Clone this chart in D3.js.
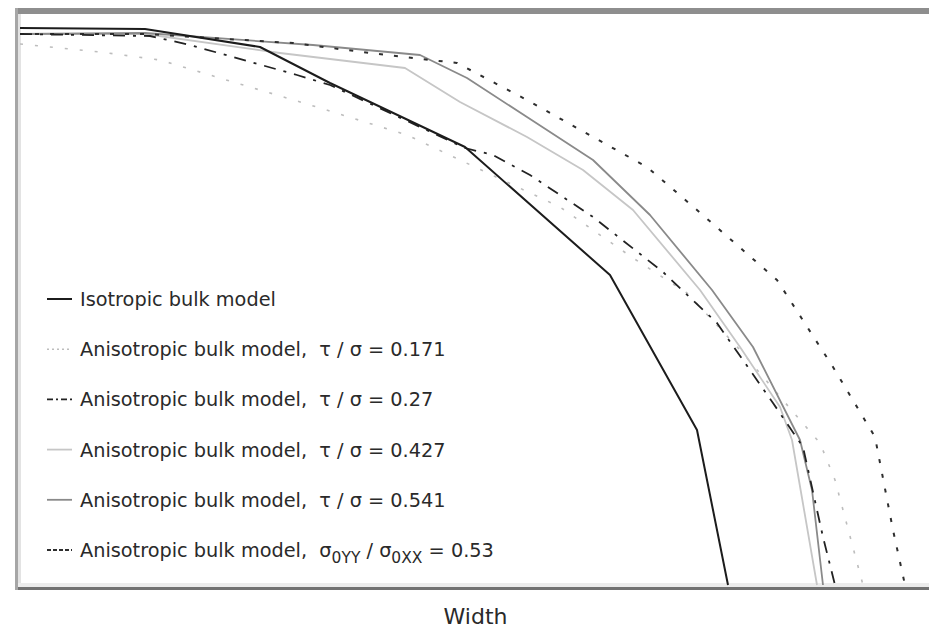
<!DOCTYPE html>
<html>
<head>
<meta charset="utf-8">
<script src="https://cdn.jsdelivr.net/npm/d3@7"></script>
<style>
  html, body { margin: 0; padding: 0; background: #fff; }
  svg { display: block; }
  text { font-family: "DejaVu Sans", Verdana, sans-serif; fill: #2a2a2a; }
</style>
</head>
<body>
<svg id="chart" width="929" height="628"></svg>
<script>
// ---- data (width vs. height, arbitrary units) ----
const seriesNames = [
  "Isotropic bulk model",
  "Anisotropic bulk model,  τ / σ = 0.171",
  "Anisotropic bulk model,  τ / σ = 0.27",
  "Anisotropic bulk model,  τ / σ = 0.427",
  "Anisotropic bulk model,  τ / σ = 0.541",
  "Anisotropic bulk model,  σ0YY / σ0XX = 0.53"
];
const isoX  = [0, 125, 240, 310, 445, 590, 677, 708];
const isoY  = [557, 556, 538, 502, 438, 310, 155, 0];
const a171X = [0, 80, 140, 213, 287, 387, 440, 540, 613, 667, 720, 780, 800, 815, 843];
const a171Y = [541, 533, 525, 503, 481, 450, 425, 378, 327, 292, 235, 165, 142, 105, 0];
const a027X = [0, 130, 170, 213, 277, 310, 445, 473, 510, 573, 643, 697, 753, 783, 803, 815];
const a027Y = [551, 549, 540, 528, 510, 500, 437, 430, 410, 368, 313, 262, 182, 138, 48, 0];
const a427X = [0, 125, 260, 385, 440, 507, 563, 613, 680, 720, 760, 772, 797];
const a427Y = [551, 551, 532, 517, 483, 448, 415, 375, 295, 238, 178, 145, 0];
const a541X = [0, 125, 293, 400, 447, 507, 573, 630, 692, 733, 780, 792, 803];
const a541Y = [551, 552, 540, 530, 507, 468, 425, 370, 295, 238, 145, 95, 0];
const a053X = [0, 125, 273, 350, 437, 507, 573, 627, 677, 757, 813, 855, 873, 885];
const a053Y = [551, 551, 542, 532, 522, 485, 448, 418, 375, 305, 218, 148, 55, 0];
const xLabel = "Width";

// ---- styles ----
const styles = [
  {stroke: "#1c1c1c", width: 2.0, dash: null,          legDash: null},
  {stroke: "#bdbdbd", width: 1.6, dash: "3,12",        legDash: "2,3"},
  {stroke: "#222222", width: 1.8, dash: "12,8,3,8",    legDash: "6,3,2,3"},
  {stroke: "#c6c6c6", width: 1.8, dash: null,          legDash: null},
  {stroke: "#8a8a8a", width: 1.8, dash: null,          legDash: null},
  {stroke: "#2e2e2e", width: 2.0, dash: "4,11",        legDash: "4,2"}
];
const seriesX = [isoX, a171X, a027X, a427X, a541X, a053X];
const seriesY = [isoY, a171Y, a027Y, a427Y, a541Y, a053Y];

const svg = d3.select("#chart");
const plot = {left: 20, right: 929, top: 14, bottom: 585};

const x = d3.scaleLinear().domain([0, 909]).range([plot.left, plot.right]);
const y = d3.scaleLinear().domain([0, 571]).range([plot.bottom, plot.top]);

svg.append("defs").append("clipPath").attr("id", "clip")
  .append("rect").attr("x", plot.left).attr("y", plot.top)
  .attr("width", plot.right - plot.left).attr("height", plot.bottom - plot.top + 2);

// frame (bevelled box)
svg.append("rect").attr("x", 15).attr("y", 8).attr("width", 914).attr("height", 6).attr("fill", "#8e8e8e");
svg.append("rect").attr("x", 15).attr("y", 8).attr("width", 3).attr("height", 582).attr("fill", "#a6a6a6");
svg.append("rect").attr("x", 18).attr("y", 14).attr("width", 3).attr("height", 573).attr("fill", "#e3e3e3");
svg.append("rect").attr("x", 18).attr("y", 583).attr("width", 911).attr("height", 4).attr("fill", "#ececec");
svg.append("rect").attr("x", 18).attr("y", 587).attr("width", 911).attr("height", 3).attr("fill", "#727272");

const line = d3.line().x(d => x(d[0])).y(d => y(d[1]));
const g = svg.append("g").attr("clip-path", "url(#clip)");
// draw in an order so darker lines sit on top
const order = [1, 3, 4, 5, 2, 0];
order.forEach(i => {
  const pts = seriesX[i].map((v, k) => [v, seriesY[i][k]]);
  g.append("path").datum(pts)
    .attr("d", line)
    .attr("fill", "none")
    .attr("stroke", styles[i].stroke)
    .attr("stroke-width", styles[i].width)
    .attr("stroke-dasharray", styles[i].dash)
    .attr("stroke-linejoin", "round");
});

// legend
const legY0 = 299, legStep = 50.2;
const fs = 19.3;
seriesNames.forEach((name, i) => {
  const yy = legY0 + i * legStep;
  svg.append("line").attr("x1", 47).attr("x2", 72).attr("y1", yy).attr("y2", yy)
    .attr("stroke", styles[i].stroke).attr("stroke-width", styles[i].width)
    .attr("stroke-dasharray", styles[i].legDash);
  const t = svg.append("text").attr("x", 80).attr("y", yy + 7)
    .attr("font-size", fs).style("white-space", "pre");
  if (i === 5) {
    t.append("tspan").text("Anisotropic bulk model,  σ");
    t.append("tspan").attr("font-size", 15.5).attr("dy", 6).text("0YY");
    t.append("tspan").attr("dy", -6).text(" / σ");
    t.append("tspan").attr("font-size", 15.5).attr("dy", 6).text("0XX");
    t.append("tspan").attr("dy", -6).text(" = 0.53");
  } else {
    t.text(name);
  }
});

// x-axis label
svg.append("text").attr("x", (plot.left + plot.right) / 2 + 1).attr("y", 624)
  .attr("text-anchor", "middle").attr("font-size", 22).text(xLabel);
</script>
</body>
</html>
